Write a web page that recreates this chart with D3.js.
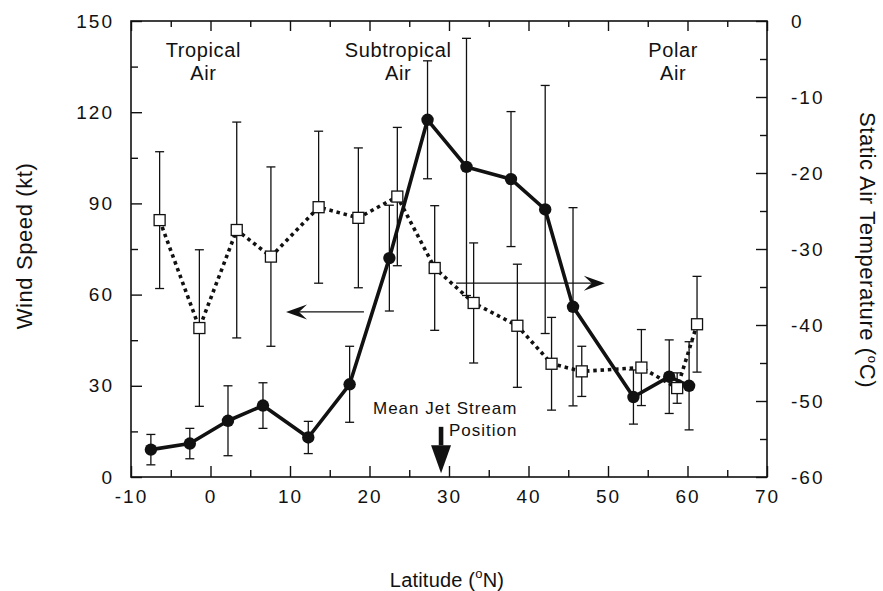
<!DOCTYPE html>
<html>
<head>
<meta charset="utf-8">
<script src="https://cdn.jsdelivr.net/npm/d3@7"></script>
<style>
  html, body { margin: 0; padding: 0; background: #fff; }
  svg { display: block; font-family: "Liberation Sans", Arial, Helvetica, sans-serif; }
</style>
</head>
<body>
<svg id="chart" width="883" height="591"></svg>
<script>
// Wind speed (kt) by latitude, mean ± SD
const windLat   = [-7.5, -2.6, 2.2, 6.6, 12.3, 17.5, 22.5, 27.3, 32.2, 37.8, 42.1, 45.6, 53.2, 57.7, 60.2];
const windSpeed = [9, 11, 18.5, 23.5, 13, 30.5, 72, 117.5, 102, 98, 88, 56, 26.3, 33, 30];
const windSD    = [5, 5, 11.5, 7.5, 5.3, 12.5, 17.4, 19.4, 42.3, 22.2, 40.8, 32.6, 8.9, 12.1, 14.5];

// Static air temperature (°C) by latitude, mean ± SD
const tempLat = [-6.4, -1.4, 3.3, 7.6, 13.6, 18.6, 23.5, 28.2, 33.1, 38.6, 42.9, 46.7, 54.2, 58.7, 61.2];
const tempC   = [-26.2, -40.4, -27.5, -31, -24.5, -25.9, -23.1, -32.5, -37.1, -40.1, -45.1, -46.1, -45.6, -48.3, -39.9];
const tempSD  = [9, 10.3, 14.2, 11.8, 10, 9.2, 9.1, 8.2, 7.9, 8.1, 6.1, 3.3, 5, 2, 6.3];

// Axis ticks
const latTicks  = [-10, 0, 10, 20, 30, 40, 50, 60, 70];
const latMinor  = [-5, 5, 15, 25, 35, 45, 55, 65];
const windTicks = [0, 30, 60, 90, 120, 150];
const windMinor = [15, 45, 75, 105, 135];
const tempTicks = [0, -10, -20, -30, -40, -50, -60];
const tempMinor = [-5, -15, -25, -35, -45, -55];

// Region labels and annotations
const regions = [
  { lines: ["Tropical", "Air"], lat: -0.9 },
  { lines: ["Subtropical", "Air"], lat: 23.6 },
  { lines: ["Polar", "Air"], lat: 58.2 }
];
const jetLat = 29;
const windArrow = { from: 19.3, to: 9.5, value: 54.3 };   // points to the wind-speed axis
const tempArrow = { from: 30.9, to: 49.6, value: -34.5 }; // points to the temperature axis

const ink = "#111";
const svg = d3.select("#chart");

const L = 131, R = 767, T = 21, B = 477;
const x  = d3.scaleLinear().domain([-10, 70]).range([L, R]);
const yW = d3.scaleLinear().domain([0, 150]).range([B, T]);
const yT = d3.scaleLinear().domain([-60, 0]).range([B, T]);

const fmt = d => String(d);

function styleAxis(g) {
  g.select(".domain").remove();
  g.selectAll(".tick line").attr("stroke", ink).attr("stroke-width", 1.4);
  g.selectAll(".tick text")
    .attr("fill", ink)
    .style("font-size", "19px")
    .style("letter-spacing", "2px");
}

// Left axis (wind speed)
svg.append("g").attr("transform", `translate(${L},0)`)
  .call(d3.axisLeft(yW).tickValues(windMinor).tickSize(-7).tickSizeOuter(0).tickFormat(""))
  .call(styleAxis);
svg.append("g").attr("transform", `translate(${L},0)`)
  .call(d3.axisLeft(yW).tickValues(windTicks).tickSize(-11).tickSizeOuter(0).tickPadding(17).tickFormat(fmt))
  .call(styleAxis);

// Right axis (temperature)
svg.append("g").attr("transform", `translate(${R},0)`)
  .call(d3.axisRight(yT).tickValues(tempMinor).tickSize(-7).tickSizeOuter(0).tickFormat(""))
  .call(styleAxis);
svg.append("g").attr("transform", `translate(${R},0)`)
  .call(d3.axisRight(yT).tickValues(tempTicks).tickSize(-11).tickSizeOuter(0).tickPadding(24).tickFormat(fmt))
  .call(styleAxis);

// Bottom axis (latitude)
svg.append("g").attr("transform", `translate(0,${B})`)
  .call(d3.axisBottom(x).tickValues(latMinor).tickSize(-7).tickSizeOuter(0).tickFormat(""))
  .call(styleAxis);
svg.append("g").attr("transform", `translate(0,${B})`)
  .call(d3.axisBottom(x).tickValues(latTicks).tickSize(-11).tickSizeOuter(0).tickPadding(13).tickFormat(fmt))
  .call(styleAxis);

// Top axis (ticks only)
svg.append("g").attr("transform", `translate(0,${T})`)
  .call(d3.axisTop(x).tickValues(latMinor).tickSize(-6).tickSizeOuter(0).tickFormat(""))
  .call(styleAxis);
svg.append("g").attr("transform", `translate(0,${T})`)
  .call(d3.axisTop(x).tickValues(latTicks).tickSize(-10).tickSizeOuter(0).tickFormat(""))
  .call(styleAxis);

// Plot frame
svg.append("rect")
  .attr("x", L).attr("y", T).attr("width", R - L).attr("height", B - T)
  .attr("fill", "none").attr("stroke", ink).attr("stroke-width", 1.6);

// Error bars
const cap = 4.5;
function errorBars(lat, mean, sd, yScale) {
  const g = svg.append("g").attr("stroke", ink).attr("stroke-width", 1.3).attr("fill", "none");
  lat.forEach((la, i) => {
    const cx = x(la), y0 = yScale(mean[i] - sd[i]), y1 = yScale(mean[i] + sd[i]);
    g.append("line").attr("x1", cx).attr("x2", cx).attr("y1", y0).attr("y2", y1);
    g.append("line").attr("x1", cx - cap).attr("x2", cx + cap).attr("y1", y0).attr("y2", y0);
    g.append("line").attr("x1", cx - cap).attr("x2", cx + cap).attr("y1", y1).attr("y2", y1);
  });
}
errorBars(tempLat, tempC, tempSD, yT);
errorBars(windLat, windSpeed, windSD, yW);

// Temperature: dotted line
const tempLine = d3.line().x(d => x(d[0])).y(d => yT(d[1]));
svg.append("path")
  .datum(tempLat.map((la, i) => [la, tempC[i]]))
  .attr("d", tempLine)
  .attr("fill", "none").attr("stroke", ink)
  .attr("stroke-width", 3.6).attr("stroke-dasharray", "3.5,3.8");

// Wind speed: solid line
const windLine = d3.line().x(d => x(d[0])).y(d => yW(d[1]));
svg.append("path")
  .datum(windLat.map((la, i) => [la, windSpeed[i]]))
  .attr("d", windLine)
  .attr("fill", "none").attr("stroke", ink)
  .attr("stroke-width", 3.6).attr("stroke-linejoin", "round");

// Wind speed markers
svg.append("g").selectAll("circle")
  .data(windLat.map((la, i) => [la, windSpeed[i]]))
  .join("circle")
  .attr("cx", d => x(d[0])).attr("cy", d => yW(d[1])).attr("r", 6.2)
  .attr("fill", ink);

// Temperature markers
const sq = 11;
svg.append("g").selectAll("rect")
  .data(tempLat.map((la, i) => [la, tempC[i]]))
  .join("rect")
  .attr("x", d => x(d[0]) - sq / 2).attr("y", d => yT(d[1]) - sq / 2)
  .attr("width", sq).attr("height", sq)
  .attr("fill", "#fff").attr("stroke", ink).attr("stroke-width", 1.3);

// Barbed arrow heads
function arrow(x1, x2, y) {
  const dir = Math.sign(x2 - x1);
  svg.append("line").attr("x1", x1).attr("x2", x2 - dir * 6).attr("y1", y).attr("y2", y)
    .attr("stroke", ink).attr("stroke-width", 1.3);
  const p = d3.path();
  p.moveTo(x2, y);
  p.lineTo(x2 - dir * 21, y - 7.5);
  p.lineTo(x2 - dir * 13, y);
  p.lineTo(x2 - dir * 21, y + 7.5);
  p.closePath();
  svg.append("path").attr("d", p.toString()).attr("fill", ink);
}
arrow(x(windArrow.from), x(windArrow.to), yW(windArrow.value));
arrow(x(tempArrow.from), x(tempArrow.to), yT(tempArrow.value));

// Mean jet stream position marker
const jx = x(jetLat);
const tipY = yW(1.2);
svg.append("rect").attr("x", jx - 2.3).attr("y", yW(16.5)).attr("width", 4.6).attr("height", tipY - 28 - yW(16.5))
  .attr("fill", ink);
svg.append("path")
  .attr("d", `M${jx - 10},${tipY - 28} L${jx + 10},${tipY - 28} L${jx},${tipY} Z`)
  .attr("fill", ink);

const annot = svg.append("g").attr("fill", ink).style("font-size", "17px").style("letter-spacing", "1px");
annot.append("text").attr("x", 373).attr("y", 414).text("Mean Jet Stream");
annot.append("text").attr("x", 449).attr("y", 436).text("Position");

// Region labels
regions.forEach(r => {
  const t = svg.append("text")
    .attr("x", x(r.lat)).attr("text-anchor", "middle")
    .attr("fill", ink).style("font-size", "20px").style("letter-spacing", "0.6px");
  t.append("tspan").attr("x", x(r.lat)).attr("y", 57).text(r.lines[0]);
  t.append("tspan").attr("x", x(r.lat)).attr("y", 80).text(r.lines[1]);
});

// Axis titles
svg.append("text")
  .attr("transform", "translate(32,246) rotate(-90)")
  .attr("text-anchor", "middle").attr("fill", ink)
  .style("font-size", "22px").style("letter-spacing", "0.6px")
  .text("Wind Speed (kt)");

const tt = svg.append("text")
  .attr("transform", "translate(860,250) rotate(90)")
  .attr("text-anchor", "middle").attr("fill", ink)
  .style("font-size", "22px").style("letter-spacing", "0.6px");
tt.append("tspan").text("Static Air Temperature (");
tt.append("tspan").attr("dy", -8).style("font-size", "13px").text("o");
tt.append("tspan").attr("dy", 8).text("C)");

const xt = svg.append("text")
  .attr("x", 447).attr("y", 587)
  .attr("text-anchor", "middle").attr("fill", ink)
  .style("font-size", "20px").style("letter-spacing", "0.2px");
xt.append("tspan").text("Latitude (");
xt.append("tspan").attr("dy", -9).style("font-size", "13px").text("o");
xt.append("tspan").attr("dy", 9).text("N)");
</script>
</body>
</html>
